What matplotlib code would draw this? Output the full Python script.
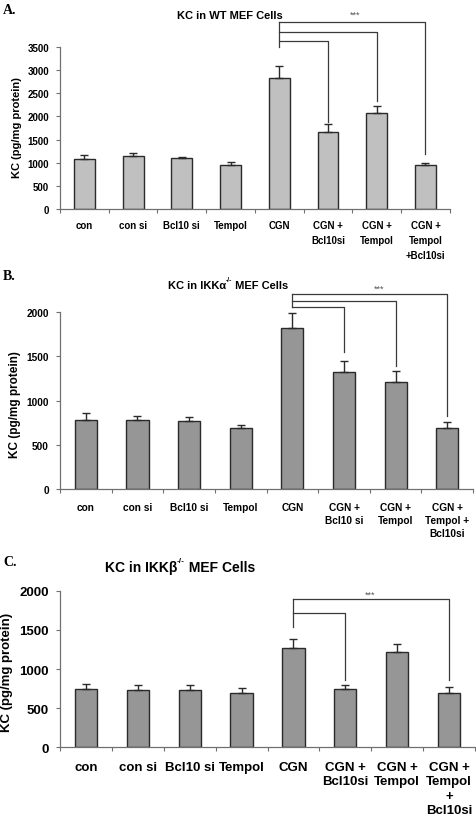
"""
KC levels in MEF cells: three stacked bar panels (WT, IKKa-/-, IKKb-/-).
"""
import matplotlib
matplotlib.use('Agg')
import matplotlib.pyplot as plt
import numpy as np

plt.rcParams['font.family'] = ['Liberation Sans', 'DejaVu Sans']
plt.rcParams['font.weight'] = 'bold'
plt.rcParams['mathtext.default'] = 'regular'

# Panel A - WT
labels_a = ['con', 'con si', 'Bcl10 si', 'Tempol', 'CGN', 'CGN +\nBcl10si',
            'CGN +\nTempol', 'CGN +\nTempol\n+Bcl10si']
kc_a = [1080, 1140, 1100, 960, 2820, 1670, 2080, 960]
err_a = [90, 70, 30, 50, 270, 160, 150, 30]
# bracket: (target bar, line height, bottom end)
brackets_a = [(7, 4040, 1190), (6, 3824, 2334), (5, 3630, 1880)]

# Panel B - IKKa-/-
labels_b = ['con', 'con si', 'Bcl10 si', 'Tempol', 'CGN', 'CGN +\nBcl10 si',
            'CGN +\nTempol', 'CGN +\nTempol +\nBcl10si']
kc_b = [780, 780, 770, 690, 1822, 1321, 1208, 690]
err_b = [80, 45, 50, 40, 173, 131, 124, 65]
brackets_b = [(7, 2207, 830), (6, 2131, 1389), (5, 2057, 1554)]

# Panel C - IKKb-/-
labels_c = ['con', 'con si', 'Bcl10 si', 'Tempol', 'CGN', 'CGN +\nBcl10si',
            'CGN +\nTempol', 'CGN +\nTempol\n+\nBcl10si']
kc_c = [740, 730, 730, 690, 1264, 749, 1213, 698]
err_c = [70, 65, 65, 65, 123, 51, 110, 68]
brackets_c = [(7, 1894, 860), (5, 1715, 860)]


def draw_panel(fig, rect, kc, err, labels, ymax, brackets, cgn_bottom,
               star_xy, color, fs, linesp, pad):
    ax = fig.add_axes(rect)
    x = np.arange(len(kc))
    ax.bar(x, kc, width=0.43, color=color, edgecolor='#2a2a2a',
           linewidth=1.0, zorder=2)
    ax.errorbar(x, kc, yerr=[np.zeros(len(err)), err], fmt='none',
                ecolor='#2a2a2a', elinewidth=1.0, capsize=2.6,
                capthick=1.0, zorder=3)

    ax.set_xlim(-0.5, len(kc) - 0.5)
    ax.set_ylim(0, ymax)
    ax.set_yticks(np.arange(0, ymax + 1, 500))
    ax.set_xticks(np.arange(-0.5, len(kc), 1.0))
    ax.set_xticklabels([])
    ax.set_xticks(x, minor=True)
    ax.set_xticklabels(labels, minor=True, fontsize=fs, fontweight='bold',
                       linespacing=linesp, va='top')
    ax.tick_params(axis='x', which='minor', length=0, pad=pad)
    ax.tick_params(axis='x', which='major', length=3, color='#707070',
                   direction='out')
    ax.tick_params(axis='y', length=3, color='#707070', labelsize=fs, pad=5)
    for t in ax.get_yticklabels():
        t.set_fontweight('bold')
    for side in ['top', 'right']:
        ax.spines[side].set_visible(False)
    for side in ['left', 'bottom']:
        ax.spines[side].set_color('#707070')
        ax.spines[side].set_linewidth(0.9)

    # significance brackets from the CGN bar
    cgn = 4
    top = max(b[1] for b in brackets)
    ax.plot([cgn, cgn], [top, cgn_bottom], color='#3a3a3a', lw=0.9,
            clip_on=False)
    for target, h, end in brackets:
        ax.plot([cgn, target, target], [h, h, end], color='#3a3a3a', lw=0.9,
                clip_on=False)
    ax.text(star_xy[0], star_xy[1], '***', ha='center', va='center',
            fontsize=6.5, color='#555555', fontweight='normal')
    return ax


def title_with_sup(fig, xc, y, before, sup, after, fs):
    """Bold title with a small superscript, centred at xc."""
    renderer = fig.canvas.get_renderer()
    parts = []
    t1 = fig.text(0, y, before, fontsize=fs, fontweight='bold', va='center')
    t2 = fig.text(0, y + fs * 0.45 / 820 * 100 / 72, sup, fontsize=fs * 0.6,
                  fontweight='bold', va='center')
    t3 = fig.text(0, y, after, fontsize=fs, fontweight='bold', va='center')
    parts = [t1, t2, t3]
    widths = [p.get_window_extent(renderer).width / fig.bbox.width
              for p in parts]
    x = xc - sum(widths) / 2
    for p, w in zip(parts, widths):
        p.set_x(x)
        x += w


fig = plt.figure(figsize=(4.76, 8.2), dpi=100)

draw_panel(fig, [0.126, 0.7439, 0.819, 0.1976], kc_a, err_a, labels_a, 3500,
           brackets_a, 3500, (5.55, 4213), '#c0c0c0', 7, 1.6, 8)
draw_panel(fig, [0.126, 0.4024, 0.868, 0.2155], kc_b, err_b, labels_b, 2000,
           brackets_b, 2057, (5.68, 2275), '#969696', 7.3, 1.38, 9)
draw_panel(fig, [0.126, 0.0874, 0.872, 0.191], kc_c, err_c, labels_c, 2000,
           brackets_c, 1540, (5.47, 1950), '#969696', 9.5, 1.25, 10)

W, H = 476.0, 820.0
# titles
fig.text(230 / W, 1 - 16 / H, 'KC in WT MEF Cells', ha='center',
         va='center', fontsize=8, fontweight='bold')
title_with_sup(fig, 228 / W, 1 - 285.7 / H, 'KC in IKKα', '-/-',
               ' MEF Cells', 8)
title_with_sup(fig, 180 / W, 1 - 568 / H, 'KC in IKKβ', '-/-',
               ' MEF Cells', 10)

# y labels
fig.text(17 / W, 1 - 128 / H, 'KC (pg/mg protein)', rotation=90,
         ha='center', va='center', fontsize=8, fontweight='bold')
fig.text(15 / W, 1 - 405 / H, 'KC (pg/mg protein)', rotation=90,
         ha='center', va='center', fontsize=8.5, fontweight='bold')
fig.text(7 / W, 1 - 672 / H, 'KC (pg/mg protein)', rotation=90,
         ha='center', va='center', fontsize=9.5, fontweight='bold')

# panel letters
for letter, y in [('A.', 10), ('B.', 277), ('C.', 562)]:
    fig.text(3 / W, 1 - y / H, letter, ha='left', va='center', fontsize=10,
             fontweight='bold', family=['Liberation Serif', 'DejaVu Serif'])

fig.savefig('out.png', dpi=100)
